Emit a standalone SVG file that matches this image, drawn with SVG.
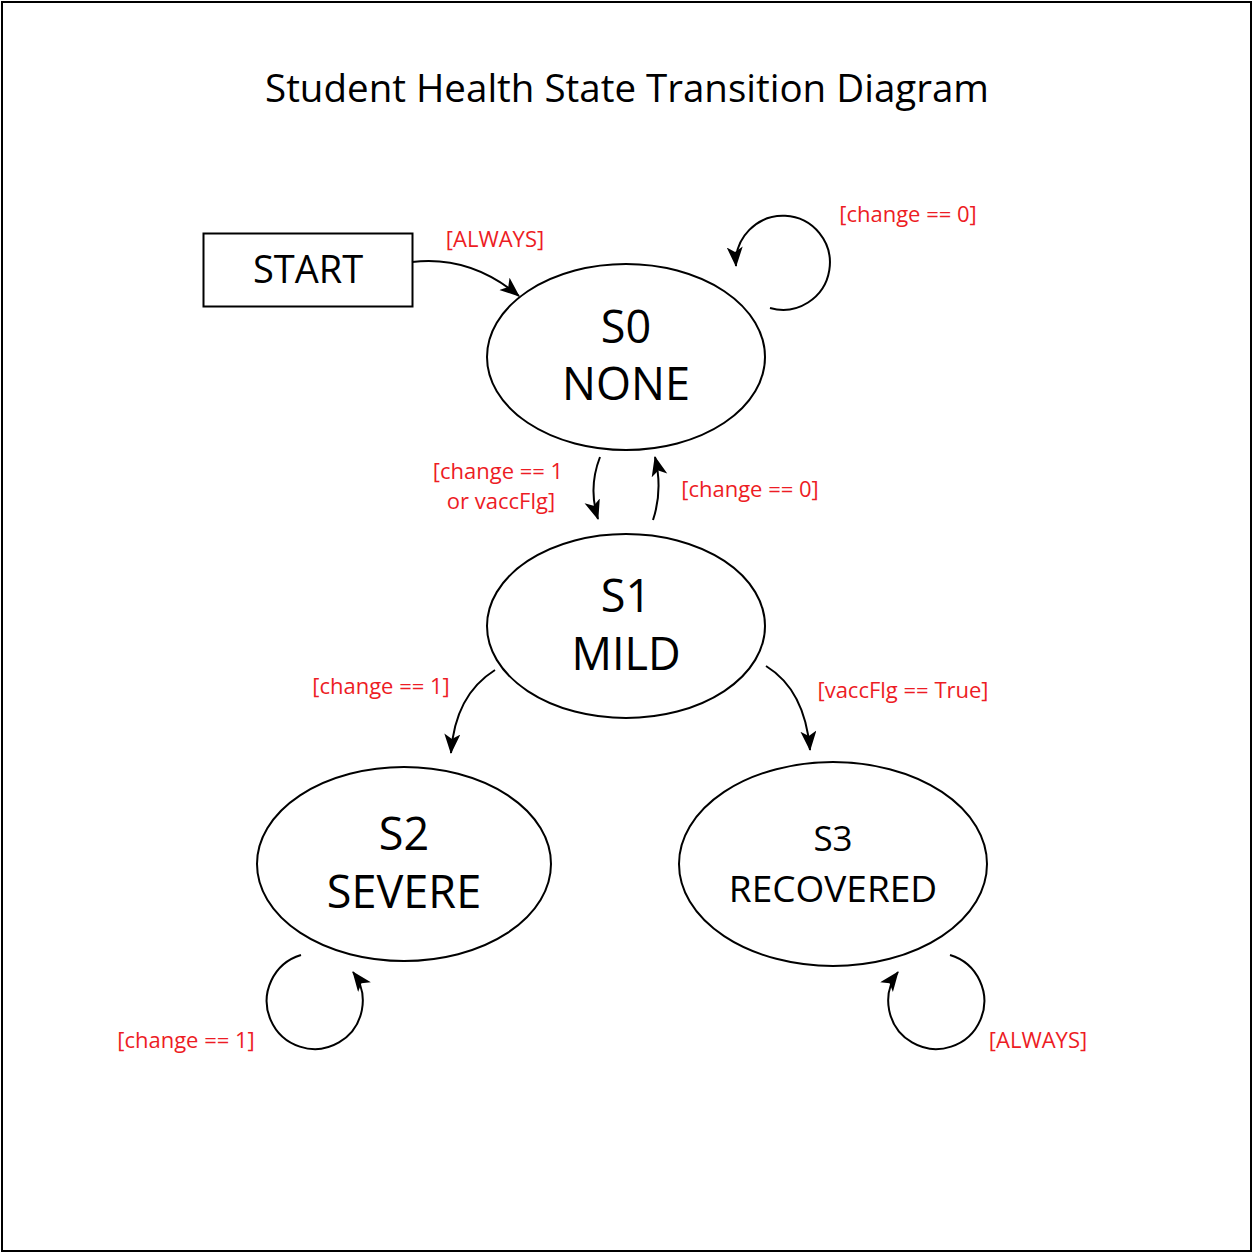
<svg xmlns="http://www.w3.org/2000/svg" width="1254" height="1254" viewBox="0 0 1254 1254">
<style>
.node{fill:#fff;stroke:#000;stroke-width:2}
.t{font-family:"Open Sans","Noto Sans",sans-serif;fill:#000;text-anchor:middle}
.lbl{font-family:"Open Sans","Noto Sans",sans-serif;fill:#ed1c24;font-size:22px;text-anchor:middle}
.edge{fill:none;stroke:#000;stroke-width:2}
</style>
<defs>
<marker id="arr" markerUnits="userSpaceOnUse" markerWidth="22" markerHeight="18" refX="19" refY="8" orient="auto">
<path d="M0,0 L20,8 L0,16 L5,8 Z" fill="#000"/>
</marker>
</defs>
<rect x="2" y="2" width="1249" height="1249" fill="#fff" stroke="#000" stroke-width="2"/>
<text class="t" x="627" y="102" font-size="38.5">Student Health State Transition Diagram</text>

<g id="start">
<rect class="node" x="203.5" y="233.5" width="209" height="73"/>
<text class="t" x="308" y="283" font-size="38">START</text>
</g>
<g id="s0">
<ellipse class="node" cx="626" cy="357" rx="139" ry="93"/>
<text class="t" x="626" y="343" font-size="45">S0</text>
<text class="t" x="626" y="400" font-size="45">NONE</text>
</g>
<g id="s1">
<ellipse class="node" cx="626" cy="626" rx="139" ry="92"/>
<text class="t" x="626" y="612" font-size="45">S1</text>
<text class="t" x="626" y="670" font-size="45">MILD</text>
</g>
<g id="s2">
<ellipse class="node" cx="404" cy="864" rx="147" ry="97"/>
<text class="t" x="404" y="850" font-size="45">S2</text>
<text class="t" x="404" y="908" font-size="45">SEVERE</text>
</g>
<g id="s3">
<ellipse class="node" cx="833" cy="864" rx="154" ry="102"/>
<text class="t" x="833" y="851" font-size="35">S3</text>
<text class="t" x="833" y="902" font-size="37">RECOVERED</text>
</g>

<g id="connectors">
<path class="edge" d="M412,262 Q470,255 519,296" marker-end="url(#arr)"/>
<path class="edge" d="M770,308 A47,47 0 1 0 736,266" marker-end="url(#arr)"/>
<path class="edge" d="M600,457 Q588,488 598,519" marker-end="url(#arr)"/>
<path class="edge" d="M653,520 Q663,490 655,457" marker-end="url(#arr)"/>
<path class="edge" d="M495,670 Q455,695 451,753" marker-end="url(#arr)"/>
<path class="edge" d="M766,666 Q805,690 810,750" marker-end="url(#arr)"/>
<path class="edge" d="M301,955 A48,48 0 1 0 353,972" marker-end="url(#arr)"/>
<path class="edge" d="M950,955 A48,48 0 1 1 898,972" marker-end="url(#arr)"/>
</g>

<g id="labels">
<text class="lbl" x="495" y="247">[ALWAYS]</text>
<text class="lbl" x="908" y="222">[change == 0]</text>
<text class="lbl" x="498" y="479">[change == 1</text>
<text class="lbl" x="501" y="509">or vaccFlg]</text>
<text class="lbl" x="750" y="497">[change == 0]</text>
<text class="lbl" x="381" y="694">[change == 1]</text>
<text class="lbl" x="903" y="698">[vaccFlg == True]</text>
<text class="lbl" x="186" y="1048">[change == 1]</text>
<text class="lbl" x="1038" y="1048">[ALWAYS]</text>
</g>
</svg>
